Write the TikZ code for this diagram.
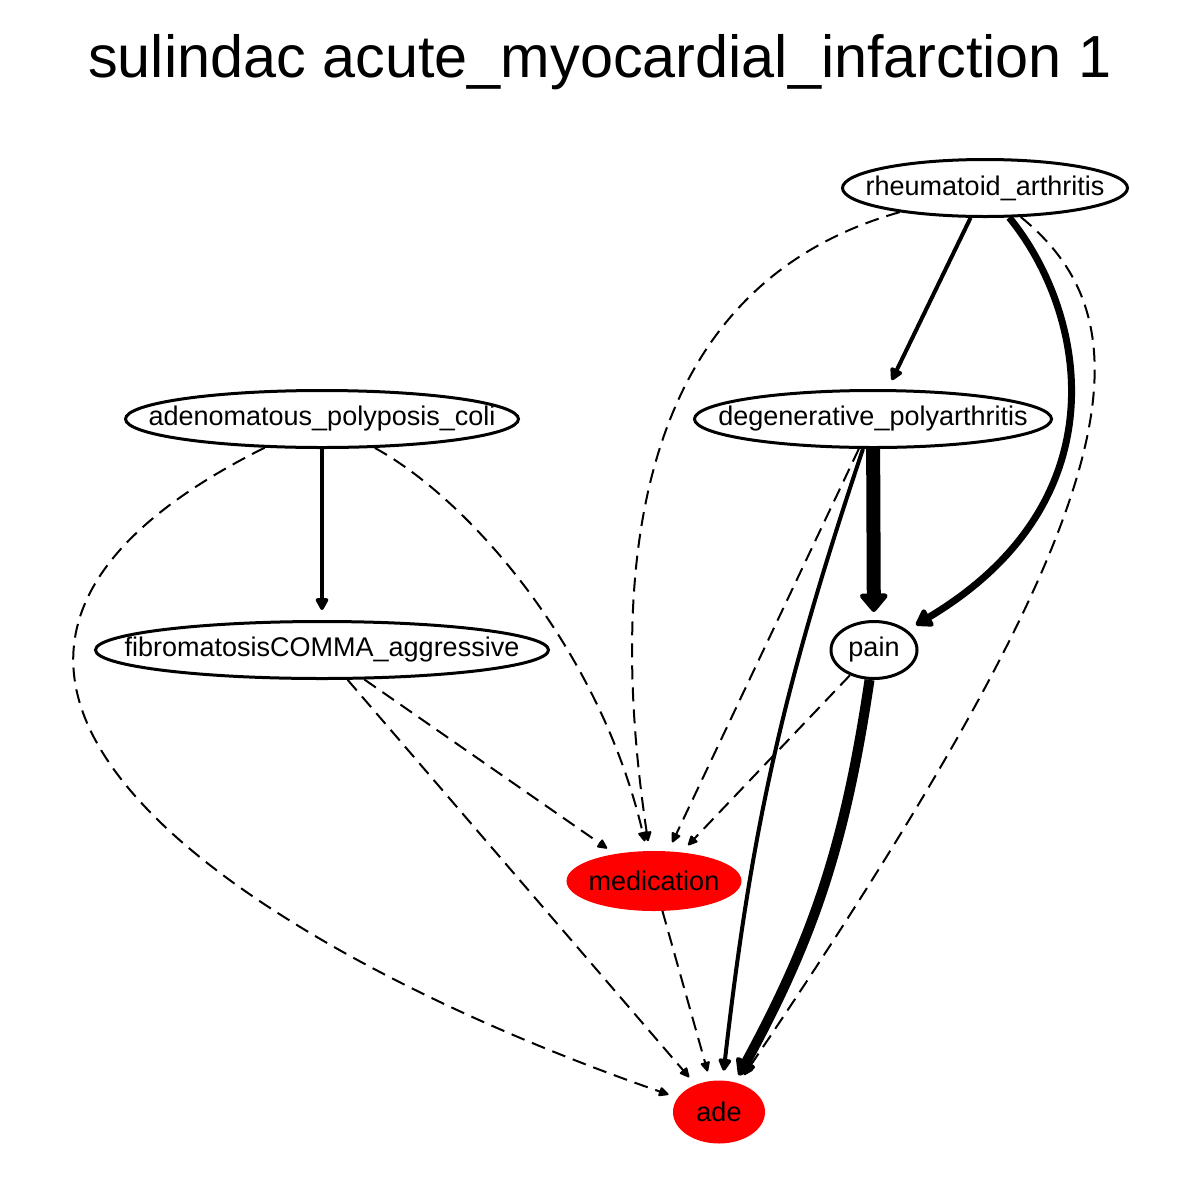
\documentclass[tikz,border=0pt]{standalone}
\usepackage{fontspec}
\setmainfont{Liberation Sans}
\usetikzlibrary{arrows.meta,shapes.geometric}
\begin{document}
\begin{tikzpicture}[
        % Define styles for consistency
        term/.style={ellipse, draw=black, line width=1.5pt, inner ysep=0pt, inner xsep=-80pt,
            minimum height=28.5pt, font=\fontsize{13.5}{16}\selectfont},
        target/.style={term, draw=red, fill=red},
        weak/.style={line width=1pt, dash pattern=on 7pt off 4pt,
            -{Triangle[round, length=5.5pt, width=5pt]}, shorten >=5pt},
        strong/.style={line width=2pt, -{Triangle[round, length=7pt, width=7pt]}, shorten >=5pt},
        heavy/.style={line width=3.5pt, -{Triangle[round, length=9pt, width=11pt]}, shorten >=5pt},
        heavier/.style={line width=5pt, -{Triangle[round, length=9pt, width=12pt]}, shorten >=4pt},
        heaviest/.style={line width=7pt, -{Triangle[round, length=10pt, width=16pt]}, shorten >=4pt},
        x=0.5pt, y=-0.5pt
    ]
        \useasboundingbox (0,0) rectangle (1200,1200);

        % --- Coordinates ---
        \coordinate (title_pos) at (600, 62);
        % Top row
        \coordinate (rheum_pos) at (985, 188);
        % Second row
        \coordinate (adeno_pos) at (322, 419);
        \coordinate (degen_pos) at (873, 419);
        % Third row
        \coordinate (fibro_pos) at (322, 650);
        \coordinate (pain_pos) at (874, 650);
        % Outcomes
        \coordinate (med_pos) at (654, 881);
        \coordinate (ade_pos) at (719, 1112);

        % --- Draw Nodes ---
        \node[font=\fontsize{29.7}{36}\selectfont] (title) at (title_pos)
            {sulindac acute\_myocardial\_infarction 1};
        \node[term, minimum width=142.5pt] (rheum) at (rheum_pos) {rheumatoid\_arthritis};
        \node[term, minimum width=196.5pt] (adeno) at (adeno_pos) {adenomatous\_polyposis\_coli};
        \node[term, minimum width=178.5pt] (degen) at (degen_pos) {degenerative\_polyarthritis};
        \node[term, minimum width=226.5pt] (fibro) at (fibro_pos) {fibromatosisCOMMA\_aggressive};
        \node[term, minimum width=43pt] (pain) at (pain_pos) {pain};
        \node[target, minimum width=86pt] (medication) at (med_pos) {medication};
        \node[target, minimum width=44.5pt, minimum height=30pt] (ade) at (ade_pos) {ade};

        % --- Draw Edges ---
        % From rheumatoid_arthritis
        \draw[strong] (rheum) -- (degen);
        \draw[heavy] (rheum) .. controls (1085,310) and (1125,500) .. (pain);
        \draw[weak] (rheum) .. controls (660,280) and (600,520) .. (medication);
        \draw[weak] (rheum) .. controls (1160,330) and (1120,520) .. (ade);

        % From adenomatous_polyposis_coli
        \draw[strong] (adeno) -- (fibro);
        \draw[weak] (adeno) .. controls (470,500) and (600,650) .. (medication);
        \draw[weak] (adeno) .. controls (-200,680) and (280,960) .. (ade);

        % From fibromatosisCOMMA_aggressive
        \draw[weak] (fibro) -- (medication);
        \draw[weak] (fibro) -- (ade);

        % From degenerative_polyarthritis
        \draw[heaviest] (degen) -- (pain);
        \draw[weak] (degen) -- (medication);
        \draw[strong] (degen) to[bend right=6] (ade);

        % From pain
        \draw[weak] (pain) -- (medication);
        \draw[heavier] (pain) to[bend left=10] (ade);

        % From medication
        \draw[weak] (medication) -- (ade);

    \end{tikzpicture}
\end{document}
